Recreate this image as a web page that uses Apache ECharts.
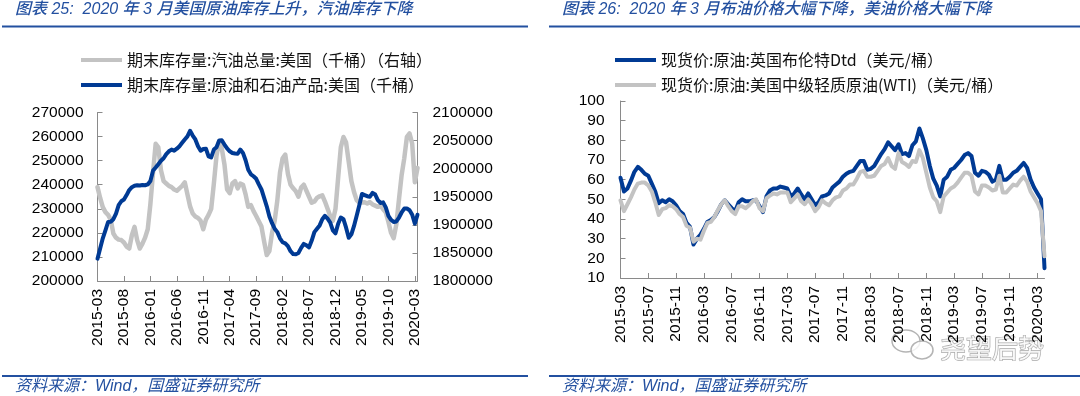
<!DOCTYPE html>
<html>
<head>
<meta charset="utf-8">
<script src="https://cdn.jsdelivr.net/npm/echarts@6/dist/echarts.min.js"></script>
<style>
html,body{margin:0;padding:0;background:#ffffff;}
#chart{width:1080px;height:396px;}
</style>
</head>
<body>
<div id="chart"></div>
<script>
// ---------- tick labels ----------
const leftTickLabels = ['2015-03','2015-08','2016-01','2016-06','2016-11','2017-04','2017-09','2018-02','2018-07','2018-12','2019-05','2019-10','2020-03'];
const rightTickLabels = ['2015-03','2015-07','2015-11','2016-03','2016-07','2016-11','2017-03','2017-07','2017-11','2018-03','2018-07','2018-11','2019-03','2019-07','2019-11','2020-03'];

// ---------- series names ----------
const leftNames = ['期末库存量:汽油总量:美国（千桶）（右轴）', '期末库存量:原油和石油产品:美国（千桶）'];
const rightNames = ['现货价:原油:英国布伦特Dtd（美元/桶）', '现货价:原油:美国中级轻质原油(WTI)（美元/桶）'];

// ---------- left chart: semi-monthly readings, 2015-03-01 .. 2020-03-16 ----------
const gasolineStock = [
239000,234500,230700,228600,227500,225500,219700,218000,217200,217000,
216000,214300,213500,219000,222500,217000,213500,215500,218000,221500,
232000,245000,257000,255500,246000,241500,240500,239500,239000,238000,
237500,238500,239500,241000,236000,231000,228000,226800,226200,225000,
221500,225500,227500,230000,240500,252000,258000,255000,248500,238000,
236500,240500,241500,238500,240500,240000,236000,230800,231500,229000,
227000,224800,222600,216500,210800,212500,220000,225000,233500,245000,
251000,252500,244500,240000,238500,237300,235000,238800,240000,237500,
235000,232500,233000,234500,235200,235600,233000,230000,227000,225000,
230000,243000,255500,259800,257500,249500,241500,237000,233600,232500,
232600,232700,232200,232800,231800,231300,230800,231300,229800,228500,
224500,220000,217800,223500,234000,244000,251000,259900,261300,257000,
241000,247000];
const crudeProductStock = [
1839800,1858000,1876000,1890000,1905000,1905500,1910000,1920000,1935000,1942000,
1945000,1953000,1962000,1967000,1969500,1970500,1970000,1971000,1970500,1972000,
1978000,1996500,2002000,2008000,2014000,2018500,2026000,2031000,2034000,2032000,
2035500,2040000,2046000,2052000,2057500,2067500,2059000,2052000,2040000,2032000,
2035000,2035500,2022000,2020000,2034000,2038000,2050000,2050500,2043000,2036000,
2031000,2028000,2027000,2026500,2034000,2028000,2015000,1998000,1990000,1986500,
1982000,1972000,1963000,1948000,1933000,1915000,1903000,1893000,1887000,1876000,
1869000,1867000,1862000,1853000,1848000,1847500,1850000,1859000,1866000,1863500,
1860000,1872000,1887000,1893000,1899000,1910000,1916000,1911000,1904000,1890000,
1885000,1902000,1913000,1910000,1895000,1877000,1883000,1898000,1916000,1935000,
1955000,1953000,1951000,1950000,1957000,1954000,1944000,1939000,1940000,1931000,
1916000,1909000,1905000,1906000,1913000,1922000,1929000,1929000,1926000,1918000,
1902000,1918000];

// ---------- right chart: semi-monthly readings, 2015-03-01 .. 2020-04-01 ----------
const brentPrice = [
61,54,55.5,59.5,64,66.5,65,63,62,58,
54,48,49.5,48.5,50,49,47,44,42.5,38,
36,27,30,32,35,38.5,39.5,41,44,47.5,
49.5,47.5,45.5,44,48.5,50,49,49,49.5,49.5,
46.5,43.5,51.5,54.5,55.5,55.5,56.5,56,55.5,51.5,
53,55.5,52.5,50,53,50,47,48.5,51.5,52,
53,56,57.5,59,61.5,63,64,64.5,67,69.5,
69.5,65,65.5,67,70,73,75.5,79,77,75,
78,73,73.5,72,77.5,79.5,86,81,75,67,
60.5,57,51.5,60,61.5,65,66,68,70,72.5,
73.5,72,63.5,62,64.5,64,62.5,59,60,67,
60,60,61.5,63.5,64.5,66.5,68.5,66,60,56,
53,50,15];
const wtiPrice = [
49.5,44,47.5,51,55,58,58.5,58.5,57,54,
48.5,42,45,45.5,47,46.5,45,42.5,41,36.5,
35.5,28.5,30,29.5,34,38,38.5,41,44.5,47.5,
49.5,46.5,44,42.5,46.5,46.5,45.5,47,49,50,
45.5,44,50.5,52,53,52.5,53.5,53.5,53.5,48.5,
50.5,52.5,49,47.5,50,47.5,44,46,49.5,48,
47,49.5,51,51.5,54.5,55.5,57.5,57.5,60.5,64,
64.5,61.5,61.5,62,64.5,67,68,71,67,65.5,
73.5,69,68,66.5,69.5,69,75,71,63.5,56,
51,49,43.5,51.5,53.5,55.5,56.5,58.5,61,63.5,
63.5,62,54,52.5,57,57,56,54.5,55,62,
53.5,53.5,55.5,57.5,57,59.5,61.5,59,54,51,
48,44,21];

// ---------- categories (semi-monthly dates) ----------
function semiMonthlyDates(year, month, count) {
  const out = [];
  let y = year, m = month, half = 0;
  for (let i = 0; i < count; i++) {
    out.push(y + '-' + String(m).padStart(2, '0') + (half ? '-16' : '-01'));
    if (half) { half = 0; m++; if (m > 12) { m = 1; y++; } } else { half = 1; }
  }
  return out;
}
const leftDates = semiMonthlyDates(2015, 3, gasolineStock.length);
const rightDates = semiMonthlyDates(2015, 3, brentPrice.length);

// ---------- styling ----------
const BLUE = '#003A94';
const GRAY = '#C3C3C3';
const AXIS = '#8A8A8A';
const TITLE_BLUE = '#2350A0';
const NUM_FONT = "'Liberation Sans', Arial, sans-serif";
const CJK_FONT = "'Liberation Sans', 'Noto Sans CJK SC', sans-serif";

function isTick(list) {
  return function (idx, val) { return val.slice(8) === '01' && list.indexOf(val.slice(0, 7)) >= 0; };
}

function xAxisCfg(gridIndex, dates, ticks) {
  return {
    type: 'category', gridIndex: gridIndex, data: dates, boundaryGap: false,
    axisLine: { show: true, lineStyle: { color: AXIS, width: 1 } },
    axisTick: { show: true, inside: true, length: 5, interval: isTick(ticks), lineStyle: { color: AXIS } },
    axisLabel: { interval: isTick(ticks), rotate: 90, margin: 8, color: '#000', fontSize: 15.5, fontFamily: NUM_FONT,
      formatter: function (v) { return v.slice(0, 7); } },
    splitLine: { show: false }
  };
}
function yAxisCfg(gridIndex, pos, min, max, interval, margin) {
  return {
    type: 'value', gridIndex: gridIndex, position: pos, min: min, max: max, interval: interval,
    axisLine: { show: true, lineStyle: { color: AXIS, width: 1 } },
    axisTick: { show: true, inside: true, length: 5, lineStyle: { color: AXIS } },
    axisLabel: { color: '#000', fontSize: 15.5, fontFamily: NUM_FONT, margin: margin,
      formatter: function (v) { return String(v); } },
    splitLine: { show: false }
  };
}
function lineSeries(name, xi, yi, data, color, width) {
  return {
    name: name, type: 'line', xAxisIndex: xi, yAxisIndex: yi, data: data,
    symbol: 'none', smooth: false,
    lineStyle: { color: color, width: width, join: 'round', cap: 'round' },
    itemStyle: { color: color }
  };
}
function legendCfg(names, left) {
  return {
    data: names, orient: 'vertical', left: left, top: 52, padding: 0, icon: 'rect',
    itemWidth: 41, itemHeight: 4, itemGap: 9, selectedMode: false,
    textStyle: { color: '#111', fontSize: 16, fontFamily: "'Noto Sans CJK SC', sans-serif", lineHeight: 16 }
  };
}
function txt(x, y, text, size, color, italic, family, weight) {
  return { type: 'text', x: x, y: y, silent: true,
    style: { text: text, fill: color, fontSize: size, fontFamily: family || CJK_FONT, fontWeight: weight || 'normal',
      fontStyle: italic ? 'italic' : 'normal', verticalAlign: 'middle', align: 'left' } };
}
function hline(x1, x2, y, w) {
  return { type: 'line', silent: true, shape: { x1: x1, y1: y, x2: x2, y2: y }, style: { stroke: TITLE_BLUE, lineWidth: w } };
}

const option = {
  animation: false,
  backgroundColor: '#ffffff',
  grid: [
    { left: 97.5, top: 112.5, width: 320, height: 168.5 },
    { left: 620.5, top: 101, width: 424, height: 177 }
  ],
  legend: [legendCfg(leftNames, 81), legendCfg(rightNames, 615)],
  xAxis: [xAxisCfg(0, leftDates, leftTickLabels), xAxisCfg(1, rightDates, rightTickLabels)],
  yAxis: [
    yAxisCfg(0, 'left', 200000, 270000, 10000, 14),
    yAxisCfg(0, 'right', 1800000, 2100000, 50000, 15),
    yAxisCfg(1, 'left', 10, 100, 10, 16)
  ],
  series: [
    lineSeries(leftNames[0], 0, 0, gasolineStock, GRAY, 4.5),
    lineSeries(leftNames[1], 0, 1, crudeProductStock, BLUE, 4),
    lineSeries(rightNames[0], 1, 2, brentPrice, BLUE, 4),
    lineSeries(rightNames[1], 1, 2, wtiPrice, GRAY, 4)
  ],
  graphic: [
    txt(15, 10, '图表 25:  2020 年 3 月美国原油库存上升，汽油库存下降', 16, TITLE_BLUE, true, null, 500),
    txt(562, 10, '图表 26:  2020 年 3 月布油价格大幅下降，美油价格大幅下降', 16, TITLE_BLUE, true, null, 500),
    hline(2, 528, 26.5, 2),
    hline(549, 1080, 26.5, 2),
    hline(2, 528, 376, 2),
    hline(549, 1080, 376, 2),
    txt(15, 387, '资料来源：Wind，国盛证券研究所', 16, TITLE_BLUE, true),
    txt(562, 387, '资料来源：Wind，国盛证券研究所', 16, TITLE_BLUE, true),
    // WeChat-style watermark
    { type: 'ellipse', silent: true, shape: { cx: 906, cy: 341, rx: 14, ry: 11 },
      style: { fill: 'rgba(255,255,255,0.8)', stroke: '#b4b4b4', lineWidth: 1.5 } },
    { type: 'ellipse', silent: true, shape: { cx: 922, cy: 350, rx: 11, ry: 9 },
      style: { fill: 'rgba(255,255,255,0.8)', stroke: '#b4b4b4', lineWidth: 1.5 } },
    { type: 'text', silent: true, x: 940, y: 348,
      style: { text: '尧望后势', fontSize: 26, fontFamily: "'Noto Sans CJK SC', sans-serif",
        fill: 'rgba(255,255,255,0.85)', stroke: '#a9a9a9', lineWidth: 1.3, verticalAlign: 'middle' } }
  ]
};

const chart = echarts.init(document.getElementById('chart'), null, { renderer: 'canvas', width: 1080, height: 396 });
chart.setOption(option);
</script>
</body>
</html>
